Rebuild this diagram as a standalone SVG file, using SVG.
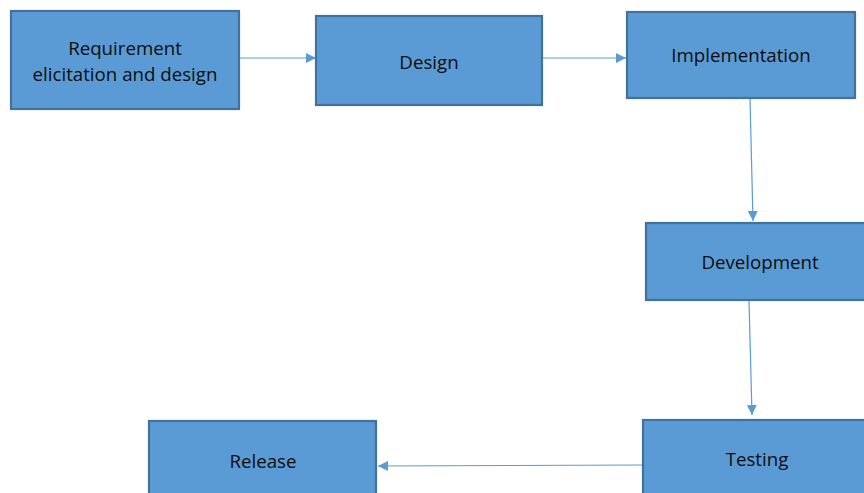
<svg xmlns="http://www.w3.org/2000/svg" width="864" height="493" viewBox="0 0 864 493">
<style>
.box{fill:#5B9BD5;stroke:#41719C;stroke-width:2.2}
.lbl{font-family:"Open Sans","Liberation Sans",sans-serif;font-size:18.7px;fill:#0d0d0d;text-anchor:middle;dominant-baseline:central}
.conn{stroke:#5B9BD5;stroke-width:1.2;fill:none;marker-end:url(#ah)}
</style>
<defs>
<marker id="ah" viewBox="0 0 10 10" refX="10" refY="5" markerWidth="10" markerHeight="10" markerUnits="userSpaceOnUse" orient="auto">
<path d="M0,0 L10,5 L0,10 z" fill="#5B9BD5"/>
</marker>
</defs>
<rect width="864" height="493" fill="#ffffff"/>
<g id="connectors">
<line class="conn" x1="240" y1="58" x2="316" y2="58"/>
<line class="conn" x1="543" y1="58" x2="626" y2="58"/>
<line class="conn" x1="750" y1="99" x2="753" y2="221"/>
<line class="conn" x1="749" y1="301" x2="752" y2="415"/>
<line class="conn" x1="642" y1="465" x2="378" y2="466"/>
</g>
<g id="n-requirement">
<rect class="box" x="11" y="11" width="228" height="98"/>
<text class="lbl" x="125" y="47">Requirement</text>
<text class="lbl" x="125" y="73">elicitation and design</text>
</g>
<g id="n-design">
<rect class="box" x="316" y="16" width="226" height="89"/>
<text class="lbl" x="429" y="61">Design</text>
</g>
<g id="n-implementation">
<rect class="box" x="627" y="12" width="228" height="86"/>
<text class="lbl" x="741" y="54">Implementation</text>
</g>
<g id="n-development">
<rect class="box" x="646" y="223" width="222" height="77"/>
<text class="lbl" x="760" y="261">Development</text>
</g>
<g id="n-testing">
<rect class="box" x="643" y="420" width="225" height="80"/>
<text class="lbl" x="757" y="458">Testing</text>
</g>
<g id="n-release">
<rect class="box" x="149" y="421" width="227" height="80"/>
<text class="lbl" x="263" y="460">Release</text>
</g>
</svg>
